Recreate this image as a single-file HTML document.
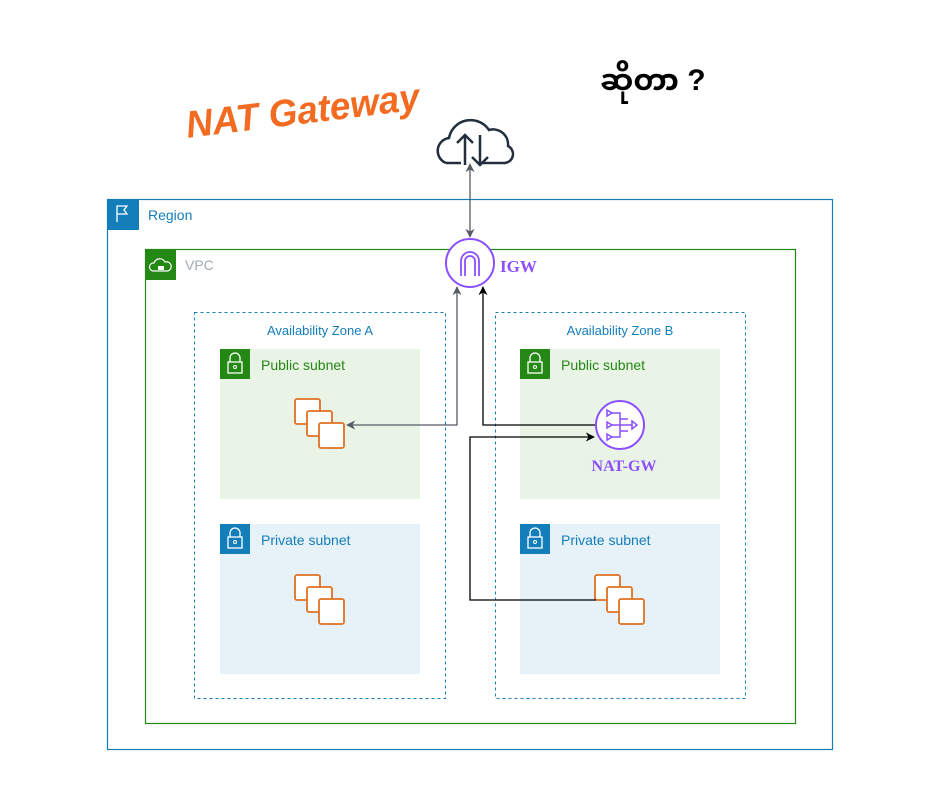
<!DOCTYPE html>
<html><head><meta charset="utf-8"><style>
body{margin:0;background:#fff}
svg text{font-family:"Liberation Sans",sans-serif}
</style></head><body>
<svg width="940" height="788" viewBox="0 0 940 788" xmlns="http://www.w3.org/2000/svg">
<defs>
<marker id="ag" viewBox="0 0 10 10" refX="9" refY="5" markerWidth="7" markerHeight="7" orient="auto-start-reverse"><path d="M0,0 L10,5 L0,10 L3,5z" fill="#545B64"/></marker>
<marker id="ab" viewBox="0 0 10 10" refX="9" refY="5" markerWidth="7" markerHeight="7" orient="auto-start-reverse"><path d="M0,0 L10,5 L0,10 L3,5z" fill="#000"/></marker>
<g id="inst" fill="none" stroke="#E07020" stroke-width="1.8">
<rect x="0" y="0" width="25" height="25" rx="2" fill="#fff"/>
<rect x="12" y="12" width="25" height="25" rx="2" fill="#fff"/>
<rect x="24" y="24" width="25" height="25" rx="2" fill="#fff"/>
</g>
<g id="lock"><rect width="30" height="30" fill="#248814"/><path d="M10,13 v-4 a5,5 0 0 1 10,0 v4" fill="none" stroke="#fff" stroke-width="1.3"/><rect x="8" y="13" width="14" height="11" fill="none" stroke="#fff" stroke-width="1.3"/><circle cx="15" cy="18" r="1.5" fill="none" stroke="#fff"/></g>
</defs>
<text x="185" y="124" font-size="38" font-weight="bold" font-style="italic" fill="#F26B21" transform="rotate(-7 300 110)" textLength="235" lengthAdjust="spacingAndGlyphs">NAT Gateway</text>
<text x="600" y="90" font-size="30" font-weight="bold" fill="#000" style="font-family:'Liberation Sans','Noto Sans Myanmar',sans-serif">ဆိုတာ ?</text>
<!-- cloud -->
<g transform="translate(2,3)">
<path d="M444,160 a13,13 0 0 1 3,-25 a22,22 0 0 1 40,-8 a15,15 0 0 1 19,16 a9,9 0 0 1 -3,17 h-25 M459,160 h-15" fill="none" stroke="#232F3E" stroke-width="2.5"/>
<path d="M463,162 v-30 M455,140 l8,-8 l8,8 M478,132 v30 M470,154 l8,8 l8,-8" fill="none" stroke="#232F3E" stroke-width="2.5"/>
</g>
<!-- region -->
<rect x="107.5" y="199.5" width="725" height="550" fill="none" stroke="#147EBA" stroke-width="1.2"/>
<rect x="107" y="199" width="32" height="31" fill="#147EBA"/>
<path d="M117,222 v-16 h10 l-3,4 l3,4 h-10" fill="none" stroke="#fff" stroke-width="1.3"/>
<text x="148" y="220" font-size="14" fill="#147EBA">Region</text>
<!-- vpc -->
<rect x="145.5" y="249.5" width="650" height="474" fill="none" stroke="#248814" stroke-width="1.2"/>
<rect x="145" y="249" width="31" height="31" fill="#248814"/>
<path d="M153,271 a4,4 0 0 1 1,-8 a6,6 0 0 1 11,-1 a4.5,4.5 0 0 1 3,9z" fill="none" stroke="#fff" stroke-width="1.2"/>
<rect x="158" y="266" width="6" height="4" fill="#fff"/>
<text x="185" y="270" font-size="14" fill="#A0AAB0">VPC</text>
<!-- AZ -->
<rect x="194.5" y="312.5" width="251" height="386" fill="none" stroke="#147EBA" stroke-dasharray="3,3"/>
<rect x="495.5" y="312.5" width="250" height="386" fill="none" stroke="#147EBA" stroke-dasharray="3,3"/>
<text x="320" y="335" font-size="13" fill="#147EBA" text-anchor="middle">Availability Zone A</text>
<text x="620" y="335" font-size="13" fill="#147EBA" text-anchor="middle">Availability Zone B</text>
<!-- subnets -->
<rect x="220" y="349" width="200" height="150" fill="#E9F3E6"/>
<rect x="520" y="349" width="200" height="150" fill="#E9F3E6"/>
<rect x="220" y="524" width="200" height="150" fill="#E6F2F8"/>
<rect x="520" y="524" width="200" height="150" fill="#E6F2F8"/>
<use href="#lock" x="220" y="349"/><use href="#lock" x="520" y="349"/>
<rect x="220" y="524" width="30" height="30" fill="#147EBA"/><rect x="520" y="524" width="30" height="30" fill="#147EBA"/>
<g transform="translate(220,524)"><path d="M10,13 v-4 a5,5 0 0 1 10,0 v4" fill="none" stroke="#fff" stroke-width="1.3"/><rect x="8" y="13" width="14" height="11" fill="none" stroke="#fff" stroke-width="1.3"/><circle cx="15" cy="18" r="1.5" fill="none" stroke="#fff"/></g>
<g transform="translate(520,524)"><path d="M10,13 v-4 a5,5 0 0 1 10,0 v4" fill="none" stroke="#fff" stroke-width="1.3"/><rect x="8" y="13" width="14" height="11" fill="none" stroke="#fff" stroke-width="1.3"/><circle cx="15" cy="18" r="1.5" fill="none" stroke="#fff"/></g>
<text x="261" y="370" font-size="14" fill="#248814">Public subnet</text>
<text x="561" y="370" font-size="14" fill="#248814">Public subnet</text>
<text x="261" y="545" font-size="14" fill="#147EBA">Private subnet</text>
<text x="561" y="545" font-size="14" fill="#147EBA">Private subnet</text>
<use href="#inst" x="295" y="399"/>
<use href="#inst" x="295" y="575"/>
<use href="#inst" x="595" y="575"/>
<!-- lines -->
<line x1="470" y1="164" x2="470" y2="237" stroke="#545B64" stroke-width="1.3" marker-start="url(#ag)" marker-end="url(#ag)"/>
<path d="M457,287 V425 H347" fill="none" stroke="#545B64" stroke-width="1.3" marker-start="url(#ag)" marker-end="url(#ag)"/>
<path d="M483,287 V425 H596" fill="none" stroke="#000" stroke-width="1.3" marker-start="url(#ab)"/>
<path d="M596,600 H470 V437 H594" fill="none" stroke="#000" stroke-width="1.3" marker-end="url(#ab)"/>
<!-- IGW -->
<circle cx="470" cy="263" r="24" fill="#fff" stroke="#8C4FFF" stroke-width="2"/>
<path d="M461,276 v-15 a9,9 0 0 1 18,0 v15 M465,276 v-15 a5,5 0 0 1 10,0 v15" fill="none" stroke="#8C4FFF" stroke-width="1.8"/>
<text x="500" y="272" font-size="17" font-weight="bold" fill="#8C4FFF" style="font-family:'Liberation Serif',serif">IGW</text>
<!-- NAT -->
<circle cx="620" cy="425" r="24" fill="#fff" stroke="#8C4FFF" stroke-width="2"/>
<g fill="none" stroke="#8C4FFF" stroke-width="1.5">
<path d="M607,410 l5,3 l-5,3z M607,422 l5,3 l-5,3z M607,434 l5,3 l-5,3z"/>
<path d="M612,413 h8 v24 h-8 M612,425 h20 M620,419 h8 M620,431 h8"/>
<path d="M632,421 l5,4 l-5,4z"/>
</g>
<text x="624" y="471" font-size="16" font-weight="bold" fill="#8C4FFF" text-anchor="middle" style="font-family:'Liberation Serif',serif">NAT-GW</text>
</svg>
</body></html>
